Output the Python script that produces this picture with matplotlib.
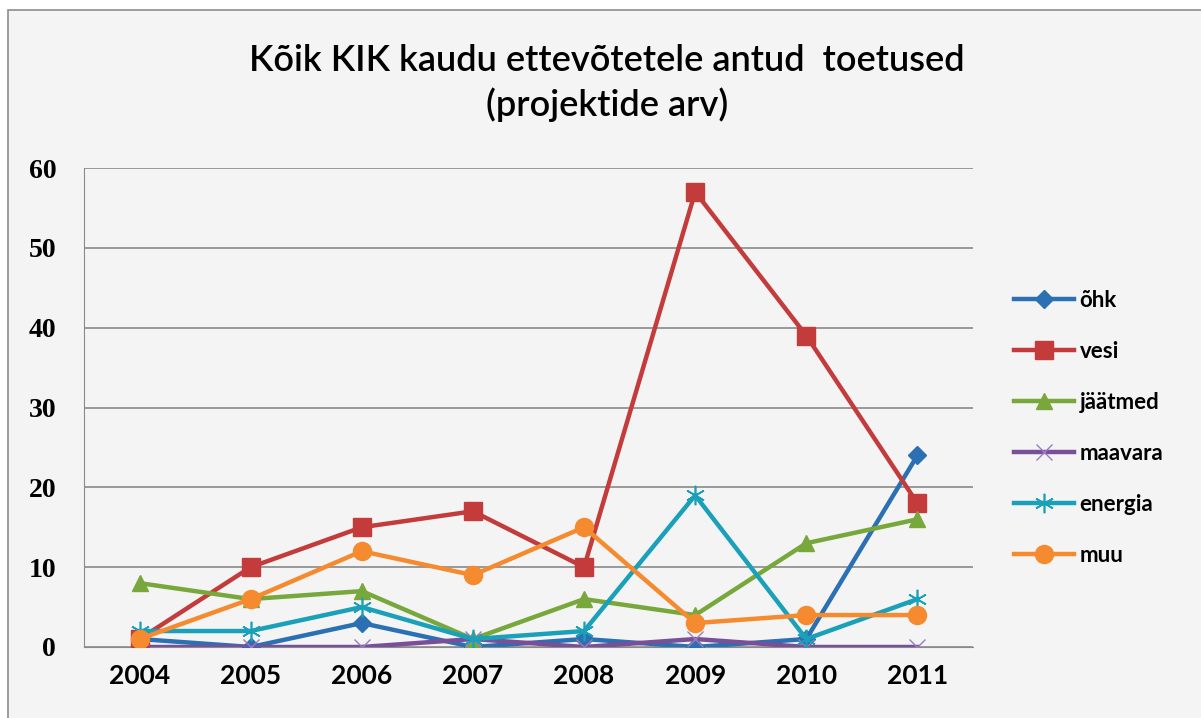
import matplotlib
matplotlib.use('Agg')
import matplotlib.pyplot as plt
from matplotlib.patches import Rectangle

years = ['2004', '2005', '2006', '2007', '2008', '2009', '2010', '2011']
ohk = [1, 0, 3, 0, 1, 0, 1, 24]
vesi = [1, 10, 15, 17, 10, 57, 39, 18]
jaatmed = [8, 6, 7, 1, 6, 4, 13, 16]
maavara = [0, 0, 0, 1, 0, 1, 0, 0]
energia = [2, 2, 5, 1, 2, 19, 1, 6]
muu = [1, 6, 12, 9, 15, 3, 4, 4]

series = [
    ('õhk', ohk, '#2a70b2', 'D', 9),
    ('vesi', vesi, '#c43b3b', 's', 13),
    ('jäätmed', jaatmed, '#78a83c', '^', 12),
    ('maavara', maavara, '#7a4f99', 'x', 11),
    ('energia', energia, '#1aa1b9', '*', 0),
    ('muu', muu, '#f58a2e', 'o', 13),
]

plt.rcParams['font.family'] = ['Lato', 'DejaVu Sans']
bg = '#f4f4f4'
fig = plt.figure(figsize=(12.01, 7.18), dpi=100)
fig.patch.set_facecolor('white')
# chart area frame
fig.patches.append(Rectangle((8 / 1201, -0.05), 1.2, (718 - 10) / 718 + 0.05,
                             transform=fig.transFigure, facecolor=bg,
                             edgecolor='#8c8c8c', linewidth=1.2, zorder=-5))

ax = fig.add_axes([84 / 1201, (718 - 647) / 718, 889 / 1201, (647 - 168) / 718])
ax.set_facecolor(bg)
x = list(range(len(years)))
for name, vals, col, mk, ms in series:
    if mk == '*':
        ax.plot(x, vals, color=col, linewidth=3.2, label=name, marker=(6, 2, 0),
                markersize=14, markeredgewidth=1.2, markeredgecolor=col, zorder=3)
    elif mk == 'x':
        ax.plot(x, vals, color=col, linewidth=3.2, label=name, marker='x',
                markersize=ms, markeredgewidth=1.0, markeredgecolor='#9b7cbf', zorder=3)
    else:
        ax.plot(x, vals, color=col, linewidth=3.2, label=name, marker=mk,
                markersize=ms, markeredgecolor=col, zorder=3)

ax.set_xlim(-0.5, len(years) - 0.5)
ax.set_ylim(0, 60)
ax.set_yticks(range(0, 61, 10))
ax.set_xticks(x)
ax.set_xticklabels(years)
ax.grid(axis='y', color='#8a8a8a', linewidth=1.2)
ax.set_axisbelow(True)
for s in ['top', 'right']:
    ax.spines[s].set_visible(False)
ax.spines['left'].set_color('#8a8a8a')
ax.spines['bottom'].set_color('#8a8a8a')
ax.tick_params(axis='x', length=0, labelsize=19, pad=12)
ax.tick_params(axis='y', length=0, labelsize=20, pad=20)
for lbl in ax.get_xticklabels():
    lbl.set_fontweight('bold')
for lbl in ax.get_yticklabels():
    lbl.set_fontweight('bold')
    lbl.set_family(['Liberation Serif', 'DejaVu Serif'])

fig.text(607 / 1201, 1 - 83 / 718, 'Kõik KIK kaudu ettevõtetele antud  toetused\n(projektide arv)',
         ha='center', va='center', fontsize=26, fontweight='semibold', linespacing=1.38)

leg = fig.legend(*ax.get_legend_handles_labels(), loc='center left',
                 bbox_to_anchor=(1014 / 1201, 1 - 428 / 718), frameon=False,
                 borderaxespad=0, borderpad=0,
                 fontsize=16, handlelength=2.7, labelspacing=1.35, handletextpad=0.25)
for t in leg.get_texts():
    t.set_fontweight('bold')

fig.savefig('out.png', dpi=100, facecolor=fig.get_facecolor())
